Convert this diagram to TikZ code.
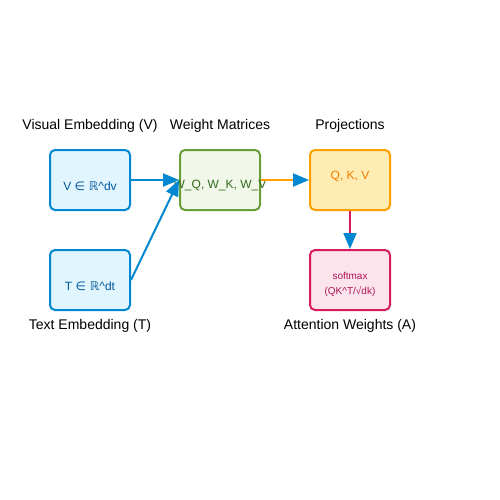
\documentclass[tikz,border=0pt]{standalone}
\usepackage{fontspec}
\setmainfont{Liberation Sans}
\newfontfamily\symfont{DejaVu Sans}
\usetikzlibrary{arrows.meta}
\definecolor{embedblue}{RGB}{2, 136, 209}
\definecolor{embedfill}{RGB}{225, 245, 254}
\definecolor{embedtext}{RGB}{1, 87, 155}
\definecolor{weightgreen}{RGB}{104, 159, 56}
\definecolor{weightfill}{RGB}{241, 248, 233}
\definecolor{weighttext}{RGB}{51, 105, 30}
\definecolor{projorange}{RGB}{255, 160, 0}
\definecolor{projfill}{RGB}{255, 236, 179}
\definecolor{projtext}{RGB}{245, 124, 0}
\definecolor{attnpink}{RGB}{216, 27, 96}
\definecolor{attnfill}{RGB}{252, 228, 236}
\definecolor{attntext}{RGB}{173, 20, 87}
\begin{document}
\begin{tikzpicture}[
        x=1pt, y=-1pt,
        box/.style={rectangle, rounded corners=5pt, line width=2pt, minimum width=80pt, minimum height=60pt, inner sep=0pt},
        title/.style={font=\fontsize{14}{16}\selectfont, text=black},
        inside/.style={font=\fontsize{12}{14}\selectfont},
        flow/.style={line width=2pt, -{Triangle[length=16pt, width=13pt, color=embedblue]}}
    ]
    \useasboundingbox (0,0) rectangle (500,500);

    % Boxes
    \node[box, draw=embedblue, fill=embedfill] (visual) at (90, 180) {};
    \node[box, draw=embedblue, fill=embedfill] (textemb) at (90, 280) {};
    \node[box, draw=weightgreen, fill=weightfill] (weights) at (220, 180) {};
    \node[box, draw=projorange, fill=projfill] (proj) at (350, 180) {};
    \node[box, draw=attnpink, fill=attnfill] (attn) at (350, 280) {};

    % Box contents
    \node[inside, text=embedtext] (vtext) at (90, 186) {V {\symfont ∈ ℝ}\^{}dv};
    \node[inside, text=embedtext] (ttext) at (90, 286) {T {\symfont ∈ ℝ}\^{}dt};
    \node[inside, text=weighttext] (wtext) at (220, 186) {W\_Q, W\_K, W\_V};
    \node[inside, text=projtext] (ptext) at (350, 176) {Q, K, V};
    \node[font=\fontsize{10}{15}\selectfont, text=attntext, align=center] (atext) at (350, 284) {softmax\\(QK\^{}T/√dk)};

    % Titles
    \node[title] (vtitle) at (90, 126) {Visual Embedding (V)};
    \node[title] (wtitle) at (220, 126) {Weight Matrices};
    \node[title] (ptitle) at (350, 126) {Projections};
    \node[title] (ttitle) at (90, 326) {Text Embedding (T)};
    \node[title] (atitle) at (350, 326) {Attention Weights (A)};

    % Flows
    \draw[flow, embedblue] (visual.east) -- (weights.west);
    \draw[flow, embedblue] (textemb.east) -- (weights.west);
    \draw[flow, projorange] (weights.east) -- (proj.west);
    \draw[flow, attnpink] (proj.south) -- (attn.north);

\end{tikzpicture}
\end{document}
